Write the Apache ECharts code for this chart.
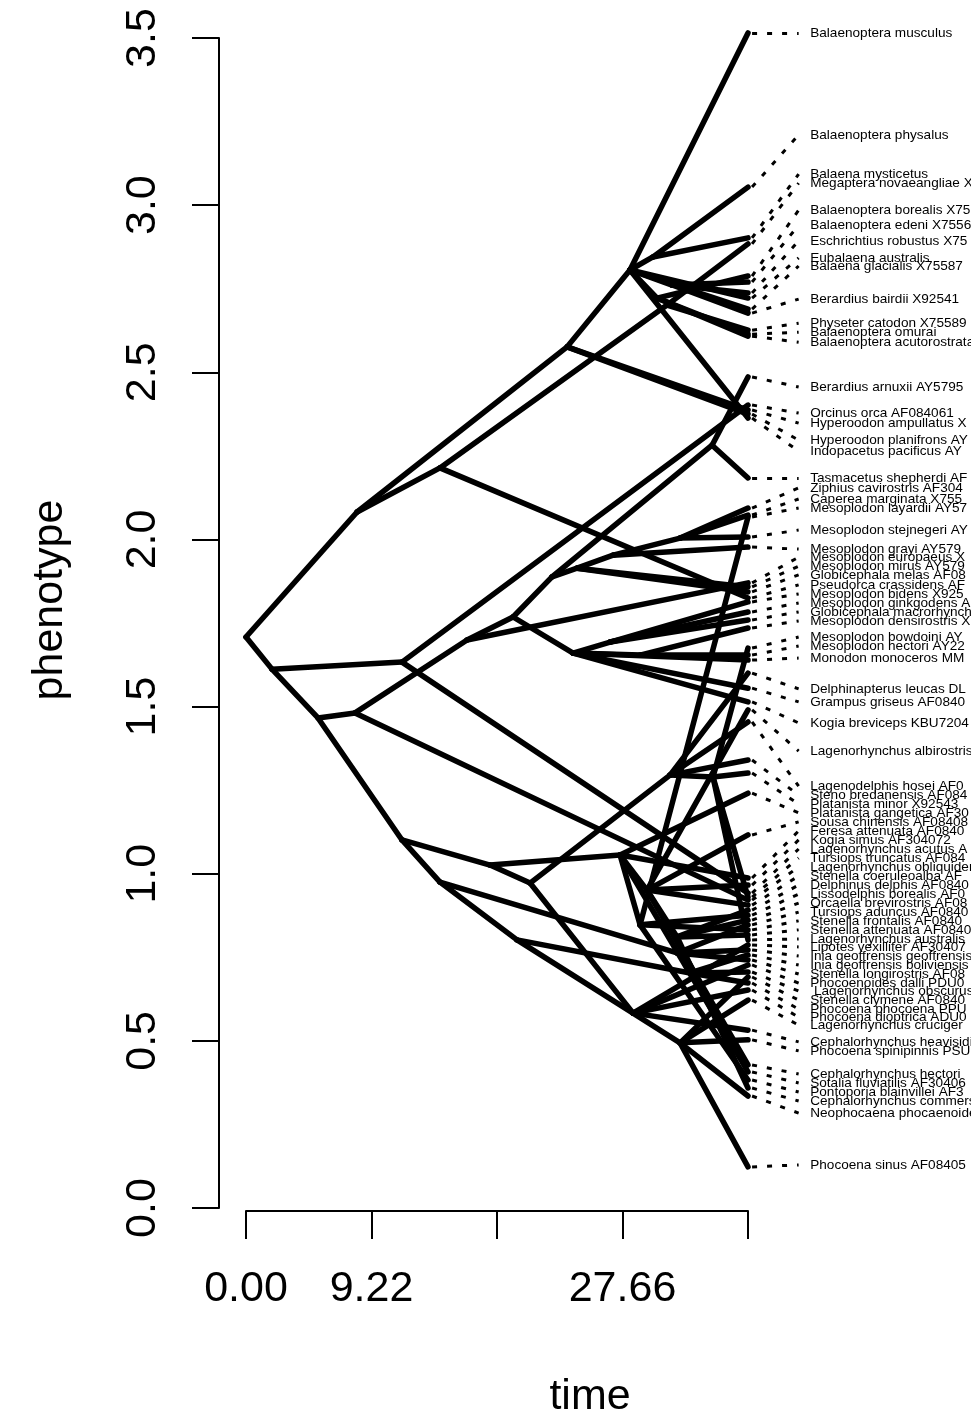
<!DOCTYPE html>
<html>
<head>
<meta charset="utf-8">
<script src="https://cdn.jsdelivr.net/npm/echarts@6/dist/echarts.min.js"></script>
<style>
  html, body { margin: 0; padding: 0; background: #ffffff; }
  #chart { width: 971px; height: 1419px; }
</style>
</head>
<body>
<div id="chart"></div>
<script>
// ---- Tree depth and axis ticks ----
const treeHeight = 36.88;
const timeTicks = [0, 9.22, 18.44, 27.66, 36.88];
const timeTickLabels = [0, 9.22, 27.66];

// ---- Internal nodes: name, parent, time, phenotype ----
const nodeNames  = ['R','A','B','U0','U1','U2','U4','U6','U5','U9','C','D','E','G','H','I','K','L','M','V','J','J1','J2','F','N1','N2','N3','P1','P2','P3','Q1','Q2','Q4','W1','W2','W3','S1','S2'];
const nodeParent = [null,'R','R','A','A','U0','U1','U4','U4','U4','B','B','D','E','G','H','I','K','L','I','H','J','J','D','F','N1','N1','F','P1','P2','N2','P2','P1','N3','N2','W2','N3','S1'];
const nodeTime   = [0, 8.16, 1.91, 14.25, 23.59, 30.93, 28.21, 29.90, 30.20, 31.30, 11.46, 5.29, 8.01, 16.24, 19.62, 22.48, 24.32, 26.97, 31.89, 34.24, 24.03, 26.75, 28.95, 11.46, 17.93, 20.87, 27.48, 14.25, 19.91, 31.89, 28.44, 32.62, 31.67, 28.95, 31.15, 34.31, 29.46, 31.67];
const nodeValue  = [1.708, 2.082, 1.612, 2.214, 2.576, 2.701, 2.806, 2.845, 2.722, 2.761, 1.633, 1.466, 1.481, 1.699, 1.768, 1.888, 1.914, 1.953, 2.004, 2.282, 1.660, 1.693, 1.654, 1.101, 1.026, 0.972, 1.056, 0.975, 0.802, 0.494, 0.583, 0.703, 0.763, 0.847, 1.295, 1.289, 0.951, 0.811];

// ---- Tips: label, phenotype, parent node, label position ----
const tipLabels = [
  'Balaenoptera musculus', 'Balaenoptera physalus', 'Balaena mysticetus', 'Megaptera novaeangliae X',
  'Balaenoptera borealis X75', 'Balaenoptera edeni X7556', 'Eschrichtius robustus X75', 'Eubalaena australis',
  'Balaena glacialis X75587', 'Berardius bairdii X92541', 'Physeter catodon X75589', 'Balaenoptera omurai',
  'Balaenoptera acutorostrata', 'Berardius arnuxii AY5795', 'Orcinus orca AF084061', 'Hyperoodon ampullatus X',
  'Hyperoodon planifrons AY', 'Indopacetus pacificus AY', 'Tasmacetus shepherdi AF', 'Ziphius cavirostris AF304',
  'Caperea marginata X755', 'Mesoplodon layardii AY57', 'Mesoplodon stejnegeri AY', 'Mesoplodon grayi AY579',
  'Mesoplodon europaeus X', 'Mesoplodon mirus AY579', 'Globicephala melas AF08', 'Pseudorca crassidens AF',
  'Mesoplodon bidens X925', 'Mesoplodon ginkgodens A', 'Globicephala macrorhynchus', 'Mesoplodon densirostris X',
  'Mesoplodon bowdoini AY', 'Mesoplodon hectori AY22', 'Monodon monoceros MM', 'Delphinapterus leucas DL',
  'Grampus griseus AF0840', 'Kogia breviceps KBU7204', 'Lagenorhynchus albirostris', 'Lagenodelphis hosei AF0',
  'Steno bredanensis AF084', 'Platanista minor X92543', 'Platanista gangetica AF30', 'Sousa chinensis AF08408',
  'Feresa attenuata AF0840', 'Kogia simus AF304072', 'Lagenorhynchus acutus A', 'Tursiops truncatus AF084',
  'Lagenorhynchus obliquidens', 'Stenella coeruleoalba AF', 'Delphinus delphis AF0840', 'Lissodelphis borealis AF0',
  'Orcaella brevirostris AF08', 'Tursiops aduncus AF0840', 'Stenella frontalis AF0840', 'Stenella attenuata AF0840',
  'Lagenorhynchus australis', 'Lipotes vexillifer AF30407', 'Inia geoffrensis geoffrensis', 'Inia geoffrensis boliviensis',
  'Stenella longirostris AF08', 'Phocoenoides dalli PDU0', ' Lagenorhynchus obscurus', 'Stenella clymene AF0840',
  'Phocoena phocoena PPU', 'Phocoena dioptrica ADU0', 'Lagenorhynchus cruciger', 'Cephalorhynchus heavisidii',
  'Phocoena spinipinnis PSU', 'Cephalorhynchus hectori', 'Sotalia fluviatilis AF30406', 'Pontoporia blainvillei AF3',
  'Cephalorhynchus commersonii', 'Neophocaena phocaenoides', 'Phocoena sinus AF08405'
];
const tipValue = [
  3.515, 3.054, 2.902, 2.884, 2.788, 2.770, 2.737, 2.722, 2.689, 2.677,
  2.626, 2.614, 2.608, 2.486, 2.402, 2.387, 2.375, 2.363, 2.184, 2.094,
  2.073, 2.067, 2.007, 1.977, 1.870, 1.858, 1.843, 1.825, 1.813, 1.783,
  1.759, 1.735, 1.675, 1.654, 1.639, 1.600, 1.555, 1.514, 1.490, 1.454,
  1.340, 1.301, 1.241, 1.116, 0.987, 0.966, 0.942, 0.930, 0.921, 0.906,
  0.891, 0.876, 0.861, 0.847, 0.832, 0.817, 0.802, 0.787, 0.772, 0.757,
  0.742, 0.727, 0.706, 0.691, 0.673, 0.652, 0.622, 0.532, 0.503, 0.428,
  0.407, 0.383, 0.359, 0.335, 0.123
];
const tipParent = [
  'U4','U6','U6','U2','U5','U9','U9','U4','U4','U9',
  'U2','U5','U5','V','C','U1','U1','U4','V','M',
  'M','W1','M','L','G','K','K','U0','J1','J1',
  'J1','J2','W3','J2','J','W2','J','J','S1','W2',
  'W2','W3','N3','S1','N3','S1','C','W3','E','S1',
  'S2','W1','S2','Q4','W1','S2','W3','Q1','Q4','Q2',
  'Q4','Q1','Q2','P3','Q2','Q1','P3','Q1','P3','S1',
  'N3','W1','S2','P3','P3'
];
const labelValue = [
  3.515, 3.210, 3.093, 3.066, 2.985, 2.940, 2.893, 2.842, 2.818, 2.719,
  2.647, 2.620, 2.590, 2.456, 2.378, 2.348, 2.297, 2.264, 2.184, 2.154,
  2.121, 2.094, 2.028, 1.971, 1.947, 1.920, 1.894, 1.864, 1.837, 1.810,
  1.783, 1.756, 1.708, 1.681, 1.645, 1.553, 1.514, 1.451, 1.367, 1.262,
  1.235, 1.208, 1.182, 1.155, 1.128, 1.101, 1.074, 1.047, 1.020, 0.993,
  0.966, 0.939, 0.912, 0.885, 0.859, 0.832, 0.805, 0.781, 0.754, 0.727,
  0.700, 0.673, 0.649, 0.622, 0.595, 0.571, 0.547, 0.497, 0.470, 0.401,
  0.374, 0.347, 0.320, 0.284, 0.129
];

// ---- Layout constants for the label column (time units) ----
const linkStart = treeHeight + 0.3;
const linkEnd = 40.6;
const labelAt = 41.45;

const idx = {};
nodeNames.forEach((n, i) => { idx[n] = i; });

const branchData = [];
nodeNames.forEach((n, i) => {
  const p = nodeParent[i];
  if (p === null) return;
  const j = idx[p];
  branchData.push({ coords: [[nodeTime[j], nodeValue[j]], [nodeTime[i], nodeValue[i]]] });
});
tipValue.forEach((v, k) => {
  const j = idx[tipParent[k]];
  branchData.push({ coords: [[nodeTime[j], nodeValue[j]], [treeHeight, v]] });
});

const linkData = tipValue.map((v, k) => ({ coords: [[linkStart, v], [linkEnd, labelValue[k]]] }));
const labelData = labelValue.map((v, k) => [labelAt, v, k]);

const FONT = "'Liberation Sans', Arial, Helvetica, sans-serif";

const chart = echarts.init(document.getElementById('chart'), null, { renderer: 'canvas' });
chart.setOption({
  animation: false,
  backgroundColor: '#ffffff',
  grid: { left: 246, top: 38, width: 502, height: 1170, containLabel: false },
  xAxis: {
    type: 'value', min: 0, max: treeHeight, offset: 3,
    axisLine: { show: true, onZero: false, lineStyle: { color: '#000', width: 2 } },
    axisTick: { show: true, length: 28, lineStyle: { color: '#000', width: 2 }, customValues: timeTicks },
    axisLabel: {
      show: true, margin: 57, fontSize: 43, color: '#000', fontFamily: FONT,
      customValues: timeTickLabels, formatter: v => Number(v).toFixed(2)
    },
    splitLine: { show: false }
  },
  yAxis: {
    type: 'value', min: 0, max: 3.5, interval: 0.5, offset: 27,
    axisLine: { show: true, onZero: false, lineStyle: { color: '#000', width: 2 } },
    axisTick: { show: true, length: 27, lineStyle: { color: '#000', width: 2 } },
    axisLabel: {
      show: true, rotate: 90, margin: 54, fontSize: 43, color: '#000', fontFamily: FONT,
      formatter: v => Number(v).toFixed(1)
    },
    splitLine: { show: false }
  },
  graphic: [
    { type: 'text', x: 590, y: 1397,
      style: { text: 'time', fontSize: 43, fontFamily: FONT, fill: '#000', align: 'center', verticalAlign: 'middle' } },
    { type: 'text', x: 50, y: 600, rotation: Math.PI / 2,
      style: { text: 'phenotype', fontSize: 43, fontFamily: FONT, fill: '#000', align: 'center', verticalAlign: 'middle' } }
  ],
  series: [
    {
      type: 'lines', coordinateSystem: 'cartesian2d', silent: true, clip: false,
      lineStyle: { color: '#000', width: 3, type: [5, 10], cap: 'butt', opacity: 1 },
      data: linkData, z: 1
    },
    {
      type: 'lines', coordinateSystem: 'cartesian2d', silent: true, clip: false,
      lineStyle: { color: '#000', width: 5.5, cap: 'round', join: 'round', opacity: 1 },
      data: branchData, z: 2
    },
    {
      type: 'custom', coordinateSystem: 'cartesian2d', silent: true, clip: false,
      data: labelData, z: 3,
      renderItem: (params, api) => {
        const pt = api.coord([api.value(0), api.value(1)]);
        return {
          type: 'text', x: pt[0], y: pt[1],
          style: {
            text: tipLabels[api.value(2)], fontSize: 13.6, fontFamily: FONT,
            fill: '#000', align: 'left', verticalAlign: 'middle'
          }
        };
      }
    }
  ]
});
</script>
</body>
</html>
